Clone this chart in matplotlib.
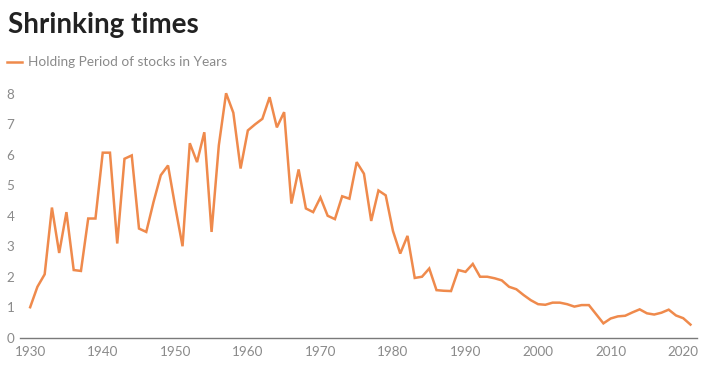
import matplotlib
matplotlib.use('Agg')
import matplotlib.pyplot as plt

years = list(range(1930, 2022))
holding = [1.0, 1.67, 2.08, 4.27, 2.78, 4.12, 2.22, 2.19, 3.91, 3.91,
           6.07, 6.07, 3.09, 5.87, 5.98, 3.58, 3.47, 4.45, 5.33, 5.65,
           4.29, 3.0, 6.38, 5.76, 6.74, 3.47, 6.31, 8.02, 7.38, 5.55,
           6.8, 7.0, 7.18, 7.89, 6.9, 7.4, 4.4, 5.52, 4.24, 4.12,
           4.6, 4.0, 3.89, 4.64, 4.56, 5.76, 5.38, 3.83, 4.83, 4.67,
           3.5, 2.76, 3.34, 1.96, 2.0, 2.27, 1.56, 1.54, 1.53, 2.22,
           2.16, 2.42, 2.0, 2.0, 1.95, 1.88, 1.67, 1.59, 1.4, 1.23,
           1.1, 1.08, 1.15, 1.15, 1.1, 1.02, 1.07, 1.07, 0.77, 0.47,
           0.63, 0.7, 0.72, 0.83, 0.93, 0.8, 0.76, 0.82, 0.92, 0.73,
           0.64, 0.43]
y_ticks = [0, 1, 2, 3, 4, 5, 6, 7, 8]
x_ticks = [1930, 1940, 1950, 1960, 1970, 1980, 1990, 2000, 2010, 2020]

title = "Shrinking times"
series_label = "Holding Period of stocks in Years"

orange = '#EF8A4C'
grey = '#8a8a8a'

plt.rcParams['font.family'] = ['Lato', 'DejaVu Sans']

W, H = 707, 369
fig = plt.figure(figsize=(W / 100, H / 100), dpi=100)
ax = fig.add_axes([20 / W, (H - 337.7) / H, (697 - 20) / W, (337.7 - 90.8) / H])

ax.plot(years, holding, color=orange, linewidth=1.8, solid_joinstyle='miter')

ax.set_xlim(1928.6, 2021.9)
ax.set_ylim(0, 8.1)
ax.set_xticks(x_ticks)
ax.set_yticks(y_ticks)
for s in ['top', 'right', 'left']:
    ax.spines[s].set_visible(False)
ax.spines['bottom'].set_color('#7a7a7a')
ax.spines['bottom'].set_linewidth(1.0)
ax.tick_params(axis='both', length=0, labelsize=9.7, labelcolor=grey)
ax.tick_params(axis='x', pad=6)
ax.tick_params(axis='y', pad=4)

fig.text(8 / W, 1 - 33 / H, title, fontsize=20, fontweight='bold',
         color='#222222', ha='left', va='baseline')
fig.lines.append(plt.Line2D([7 / W, 22 / W], [1 - 62 / H, 1 - 62 / H],
                            transform=fig.transFigure, color=orange, linewidth=1.8))
fig.text(28 / W, 1 - 62 / H, series_label, fontsize=9.8, color=grey,
         ha='left', va='center')

fig.savefig('out.png', dpi=100, facecolor='white')
